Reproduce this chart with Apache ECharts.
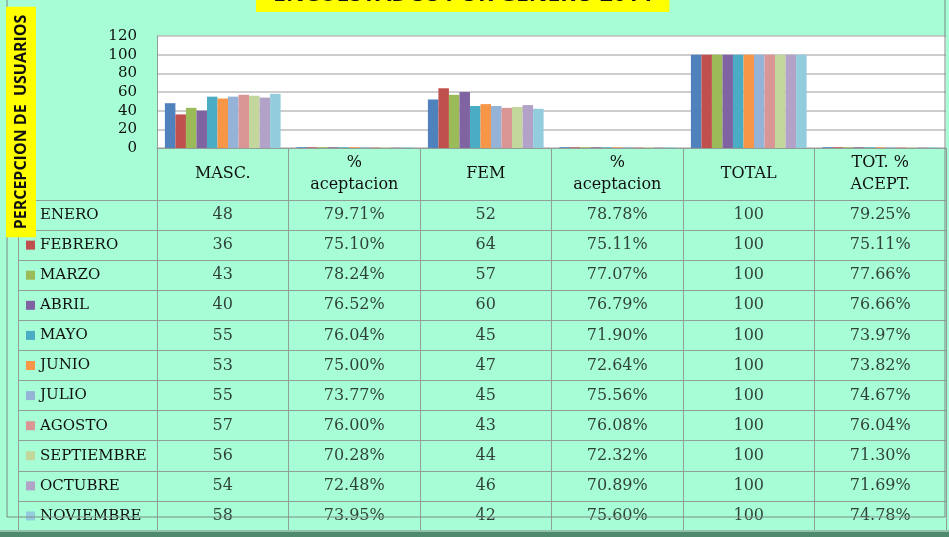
<!DOCTYPE html>
<html>
<head>
<meta charset="utf-8">
<script src="https://cdn.jsdelivr.net/npm/echarts@6/dist/echarts.min.js"></script>
<style>
  html, body { margin: 0; padding: 0; background: #a6fdd6; }
  #chart { width: 949px; height: 537px; }
</style>
</head>
<body>
<div id="chart"></div>
<script>
// columnas de la tabla
var columnas = ["MASC.", "% aceptacion", "FEM", "% aceptacion ", "TOTAL", "TOT. % ACEPT."];
var cabeceras = ["MASC.", "%\naceptacion", "FEM", "%\naceptacion", "TOTAL", "TOT. %\nACEPT."];
var meses = ["ENERO", "FEBRERO", "MARZO", "ABRIL", "MAYO", "JUNIO", "JULIO", "AGOSTO", "SEPTIEMBRE", "OCTUBRE", "NOVIEMBRE"];

var masc = [48, 36, 43, 40, 55, 53, 55, 57, 56, 54, 58];
var mascAcep = [0.7971, 0.7510, 0.7824, 0.7652, 0.7604, 0.7500, 0.7377, 0.7600, 0.7028, 0.7248, 0.7395];
var fem = [52, 64, 57, 60, 45, 47, 45, 43, 44, 46, 42];
var femAcep = [0.7878, 0.7511, 0.7707, 0.7679, 0.7190, 0.7264, 0.7556, 0.7608, 0.7232, 0.7089, 0.7560];
var total = [100, 100, 100, 100, 100, 100, 100, 100, 100, 100, 100];
var totAcep = [0.7925, 0.7511, 0.7766, 0.7666, 0.7397, 0.7382, 0.7467, 0.7604, 0.7130, 0.7169, 0.7478];

var yTicks = [0, 20, 40, 60, 80, 100, 120];

var colores = ["#4f81bd", "#c0504d", "#9bbb59", "#8064a2", "#4bacc6", "#f79646",
  "#95b3d7", "#d99694", "#c3d69b", "#b3a2c7", "#93cddd"];

var chart = echarts.init(document.getElementById("chart"));

var serif = "'DejaVu Serif', serif";
var lineaTabla = "#8f9e97";
var tinta = "#111111";

function pct(v) {
  return (v * 100).toFixed(2) + "%";
}

// series de barras, una por mes
var series = meses.map(function(m, i) {
  return {
    name: m,
    type: "bar",
    xAxisIndex: 0,
    yAxisIndex: 0,
    barGap: 0,
    barCategoryGap: "12%",
    itemStyle: { color: colores[i] },
    data: [masc[i], mascAcep[i], fem[i], femAcep[i], total[i], totAcep[i]]
  };
});

// celdas de la tabla
var celdas = [];
meses.forEach(function(m, i) {
  var fila = [String(masc[i]), pct(mascAcep[i]), String(fem[i]), pct(femAcep[i]), String(total[i]), pct(totAcep[i])];
  fila.forEach(function(t, j) {
    celdas.push([columnas[j], m, t]);
  });
});
series.push({
  type: "scatter",
  xAxisIndex: 1,
  yAxisIndex: 1,
  symbolSize: 0,
  silent: true,
  data: celdas,
  label: {
    show: true,
    position: "inside",
    formatter: function(p) { return p.value[2]; },
    fontFamily: serif,
    fontSize: 16,
    color: tinta
  }
});

var rich = { t: { fontFamily: serif, fontSize: 15, color: tinta, padding: [0, 0, 0, 5] } };
colores.forEach(function(c, i) {
  rich["s" + i] = { width: 9, height: 9, backgroundColor: c };
});

var option = {
  backgroundColor: "#a6fdd6",
  animation: false,
  title: {
    text: "ENCUESTADOS POR GENERO 2014",
    left: 256,
    top: -19,
    backgroundColor: "#ffff00",
    padding: [0, 17, 4, 17],
    textStyle: {
      fontFamily: "'Open Sans', sans-serif",
      fontWeight: "bold",
      fontSize: 23,
      lineHeight: 27,
      color: "#111"
    }
  },
  grid: [
    { left: 157, right: 3, top: 36, height: 112, show: true, backgroundColor: "#ffffff", borderWidth: 0 },
    { left: 157, right: 3, top: 200, height: 331 },
    { left: 18, width: 139, top: 200, height: 331 }
  ],
  xAxis: [
    {
      type: "category",
      gridIndex: 0,
      data: columnas,
      axisLine: { lineStyle: { color: lineaTabla } },
      axisTick: { show: true, length: 52, lineStyle: { color: lineaTabla } },
      axisLabel: {
        margin: 26,
        verticalAlign: "middle",
        lineHeight: 22,
        fontFamily: serif,
        fontSize: 16,
        color: tinta,
        formatter: function(v, i) { return cabeceras[i]; }
      }
    },
    {
      type: "category",
      gridIndex: 1,
      data: columnas,
      axisLine: { show: false },
      axisTick: { show: false },
      axisLabel: { show: false },
      splitLine: { show: true, lineStyle: { color: lineaTabla } }
    },
    { type: "value", gridIndex: 2, min: 0, max: 1, show: false }
  ],
  yAxis: [
    {
      type: "value",
      gridIndex: 0,
      min: yTicks[0],
      max: yTicks[yTicks.length - 1],
      interval: 20,
      axisLine: { show: true, lineStyle: { color: lineaTabla } },
      axisTick: { show: false },
      axisLabel: { margin: 20, fontFamily: serif, fontSize: 15, color: tinta },
      splitLine: { lineStyle: { color: "#bcbcbc", width: 1.5 } }
    },
    {
      type: "category",
      gridIndex: 1,
      inverse: true,
      data: meses,
      axisLine: { show: true, lineStyle: { color: lineaTabla } },
      axisTick: { show: false },
      splitLine: { show: true, lineStyle: { color: lineaTabla } },
      axisLabel: {
        align: "left",
        margin: 131,
        rich: rich,
        formatter: function(v, i) { return "{s" + i + "|}{t|" + v + "}"; }
      }
    },
    {
      type: "category",
      gridIndex: 2,
      inverse: true,
      data: meses,
      axisLine: { show: true, lineStyle: { color: lineaTabla } },
      axisTick: { show: false },
      axisLabel: { show: false },
      splitLine: { show: true, lineStyle: { color: lineaTabla } }
    }
  ],
  graphic: [
    {
      type: "rect",
      z: 90,
      shape: { x: 7, y: -5, width: 938, height: 522 },
      style: { fill: "none", stroke: "#7d8a84", lineWidth: 1 }
    },
    {
      type: "rect",
      z: 90,
      shape: { x: 0, y: 530, width: 949, height: 2 },
      style: { fill: "#8fc2a8" }
    },
    {
      type: "rect",
      z: 90,
      shape: { x: 0, y: 532, width: 949, height: 5 },
      style: { fill: "#4f8a6e" }
    },
    {
      type: "text",
      z: 100,
      x: 21,
      y: 122,
      rotation: Math.PI / 2,
      style: {
        text: "PERCEPCION DE  USUARIOS",
        font: "bold 16px 'Open Sans', sans-serif",
        fill: "#111",
        align: "center",
        verticalAlign: "middle",
        backgroundColor: "#ffff00",
        padding: [7, 8, 7, 8]
      }
    }
  ],
  series: series
};

chart.setOption(option);
</script>
</body>
</html>
